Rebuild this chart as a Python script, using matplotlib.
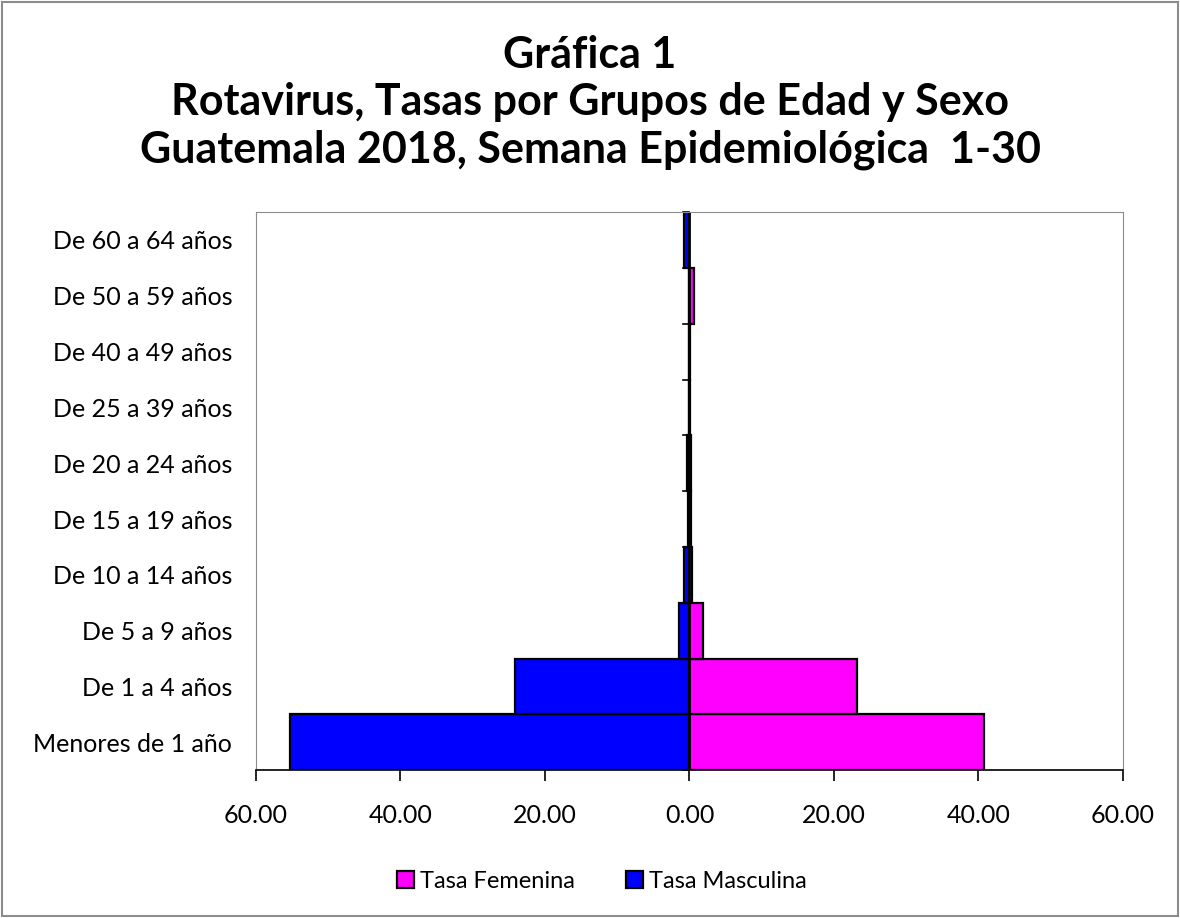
import numpy as np
import matplotlib.pyplot as plt
from matplotlib.patches import Rectangle

# age groups, bottom to top
grupos = ['Menores de 1 año', 'De 1 a 4 años', 'De 5 a 9 años', 'De 10 a 14 años',
          'De 15 a 19 años', 'De 20 a 24 años', 'De 25 a 39 años', 'De 40 a 49 años',
          'De 50 a 59 años', 'De 60 a 64 años']
tasa_femenina = [40.7, 23.2, 1.9, 0.4, 0.2, 0.2, 0.1, 0.1, 0.6, 0.0]
tasa_masculina = [55.3, 24.2, 1.5, 0.8, 0.2, 0.4, 0.1, 0.1, 0.1, 0.8]
xticks = [-60, -40, -20, 0, 20, 40, 60]

plt.rcParams['font.family'] = ['Lato', 'DejaVu Sans']

fig = plt.figure(figsize=(11.8, 9.18), dpi=100)
ax = fig.add_axes([0.2169, 0.161, 0.7348, 0.608])

y = np.arange(len(grupos))
ax.barh(y, tasa_femenina, height=1.0, color='#FF00FF', edgecolor='black', linewidth=1.6,
        label='Tasa Femenina')
ax.barh(y, [-v for v in tasa_masculina], height=1.0, color='#0000FF', edgecolor='black',
        linewidth=1.6, label='Tasa Masculina')

ax.set_xlim(-60, 60)
ax.set_ylim(-0.5, len(grupos) - 0.5)
ax.set_xticks(xticks)
ax.set_xticklabels([f'{abs(v):.2f}' for v in xticks], fontsize=18)
ax.set_yticks(y)
ax.set_yticklabels(grupos, fontsize=18)
ax.tick_params(axis='y', length=0, pad=17)
ax.tick_params(axis='x', length=8, width=1.2, pad=16)

for s in ['top', 'right', 'left']:
    ax.spines[s].set_color('#8c8c8c')
ax.spines['bottom'].set_color('black')
ax.spines['bottom'].set_linewidth(1.2)

# category axis at zero with boundary ticks
ax.axvline(0, color='black', linewidth=2)
for b in np.arange(len(grupos) + 1) - 0.5:
    ax.plot([-0.9, 0], [b, b], color='black', linewidth=1.2, clip_on=False)

fig.text(0.5, 0.94, 'Gráfica 1', ha='center', va='center', fontsize=31, fontweight='bold')
fig.text(0.5, 0.889, 'Rotavirus, Tasas por Grupos de Edad y Sexo', ha='center', va='center',
         fontsize=31, fontweight='bold')
fig.text(0.5, 0.837, 'Guatemala 2018, Semana Epidemiológica  1-30', ha='center', va='center',
         fontsize=31, fontweight='bold')

fig.legend(loc='center', bbox_to_anchor=(0.51, 0.04), ncol=2, frameon=False, fontsize=17,
           handlelength=0.7, handleheight=0.7, handletextpad=0.25, columnspacing=2.2)

fig.patches.append(Rectangle((0.002, 0.002), 0.996, 0.996, transform=fig.transFigure,
                             fill=False, edgecolor='#8c8c8c', linewidth=1.5))

fig.savefig('out.png', dpi=100)
